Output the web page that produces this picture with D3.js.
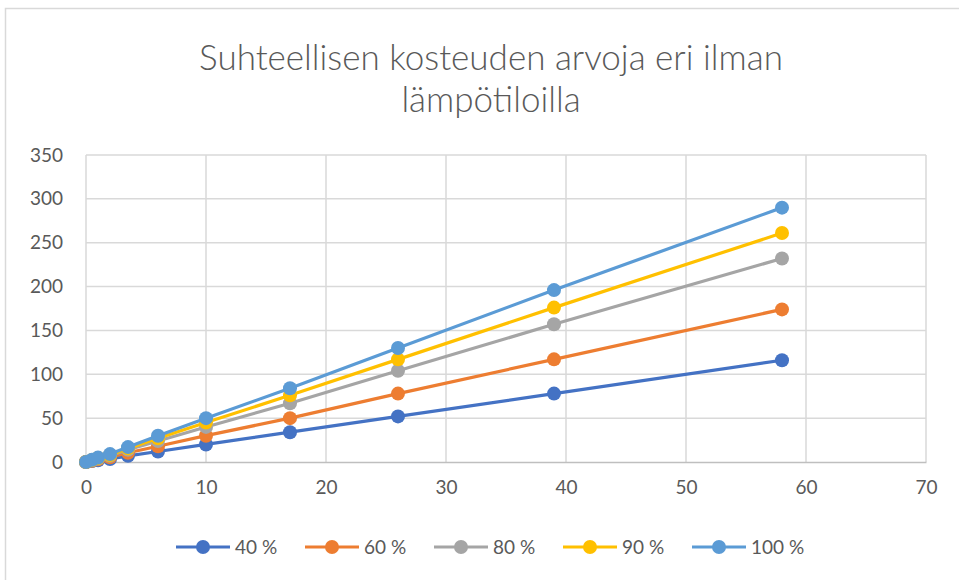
<!DOCTYPE html>
<html>
<head>
<meta charset="utf-8">
<script src="https://cdn.jsdelivr.net/npm/d3@7"></script>
<style>
  html, body { margin: 0; padding: 0; background: #fff; }
  svg { display: block; }
</style>
</head>
<body>
<svg id="chart" width="959" height="580"></svg>
<script>
// Relative humidity values at different air temperatures
const xValues = [0, 0.5, 1, 2, 3.5, 6, 10, 17, 26, 39, 58];
const rh40  = [0, 1, 2, 3.5, 7, 12, 20, 34, 52, 78, 116];
const rh60  = [0, 1.5, 3, 5.5, 10.5, 18, 30, 50, 78, 117, 174];
const rh80  = [0, 2, 4, 7, 14, 24, 40, 67, 104, 157, 232];
const rh90  = [0, 2.2, 4.5, 8, 15.5, 27, 45, 76, 117, 176, 261];
const rh100 = [0, 2.5, 5, 9, 17, 30, 50, 84, 130, 196, 290];

const seriesNames = ["40 %", "60 %", "80 %", "90 %", "100 %"];
const seriesColors = ["#4472C4", "#ED7D31", "#A5A5A5", "#FFC000", "#5B9BD5"];
const seriesValues = [rh40, rh60, rh80, rh90, rh100];

const xTicks = [0, 10, 20, 30, 40, 50, 60, 70];
const yTicks = [0, 50, 100, 150, 200, 250, 300, 350];

const titleLines = ["Suhteellisen kosteuden arvoja eri ilman", "lämpötiloilla"];

const svg = d3.select("#chart");
const font = "Lato, 'Open Sans', sans-serif";
const textColor = "#595959";
const gridColor = "#d9d9d9";

// Chart frame
svg.append("path")
  .attr("d", "M5.5,580 V8.5 H959")
  .attr("fill", "none")
  .attr("stroke", "#d9d9d9")
  .attr("stroke-width", 1.5);

const plot = { left: 86, right: 926, top: 155, bottom: 462 };

const x = d3.scaleLinear().domain([0, 70]).range([plot.left, plot.right]);
const y = d3.scaleLinear().domain([0, 350]).range([plot.bottom, plot.top]);

// Title
svg.append("text")
  .attr("x", 491).attr("y", 70)
  .attr("text-anchor", "middle")
  .attr("font-family", font)
  .attr("font-weight", 300)
  .attr("font-size", 35)
  .attr("fill", textColor)
  .selectAll("tspan")
  .data(titleLines)
  .join("tspan")
  .attr("x", 491)
  .attr("dy", (d, i) => i === 0 ? 0 : 42)
  .text(d => d);

// Gridlines
const grid = svg.append("g");
grid.selectAll("line.h")
  .data(yTicks.filter(d => d > 0))
  .join("line")
  .attr("x1", plot.left).attr("x2", plot.right)
  .attr("y1", d => y(d)).attr("y2", d => y(d))
  .attr("stroke", gridColor).attr("stroke-width", 1.5);
grid.selectAll("line.v")
  .data(xTicks)
  .join("line")
  .attr("y1", plot.top).attr("y2", plot.bottom)
  .attr("x1", d => x(d)).attr("x2", d => x(d))
  .attr("stroke", gridColor).attr("stroke-width", 1.5);

// Axes
const xAxis = d3.axisBottom(x).tickValues(xTicks).tickSize(0).tickPadding(19);
const gx = svg.append("g").attr("transform", `translate(0,${plot.bottom})`).call(xAxis);
gx.select(".domain").attr("stroke", "#bfbfbf").attr("stroke-width", 1.5);
gx.selectAll("text").attr("font-family", font).attr("font-size", 19).attr("fill", textColor);

const yAxis = d3.axisLeft(y).tickValues(yTicks).tickSize(0).tickPadding(23);
const gy = svg.append("g").attr("transform", `translate(${plot.left},0)`).call(yAxis);
gy.select(".domain").remove();
gy.selectAll("text").attr("font-family", font).attr("font-size", 19).attr("fill", textColor);

// Series lines and markers
const line = d3.line().x((d, i) => x(xValues[i])).y(d => y(d));
seriesValues.forEach((vals, s) => {
  const g = svg.append("g");
  g.append("path")
    .datum(vals)
    .attr("d", line)
    .attr("fill", "none")
    .attr("stroke", seriesColors[s])
    .attr("stroke-width", 3.2)
    .attr("stroke-linejoin", "round");
  g.selectAll("circle")
    .data(vals)
    .join("circle")
    .attr("cx", (d, i) => x(xValues[i]))
    .attr("cy", d => y(d))
    .attr("r", 7)
    .attr("fill", seriesColors[s]);
});

// Legend
const legend = svg.append("g").attr("transform", "translate(176,547)");
const items = legend.selectAll("g")
  .data(seriesNames)
  .join("g")
  .attr("transform", (d, i) => `translate(${i * 129},0)`);
items.append("line")
  .attr("x1", 0).attr("x2", 54).attr("y1", 0).attr("y2", 0)
  .attr("stroke", (d, i) => seriesColors[i]).attr("stroke-width", 3.2);
items.append("circle")
  .attr("cx", 27).attr("cy", 0).attr("r", 7)
  .attr("fill", (d, i) => seriesColors[i]);
items.append("text")
  .attr("x", 59).attr("y", 0).attr("dy", "0.35em")
  .attr("font-family", font).attr("font-size", 19)
  .attr("fill", textColor)
  .text(d => d);
</script>
</body>
</html>
